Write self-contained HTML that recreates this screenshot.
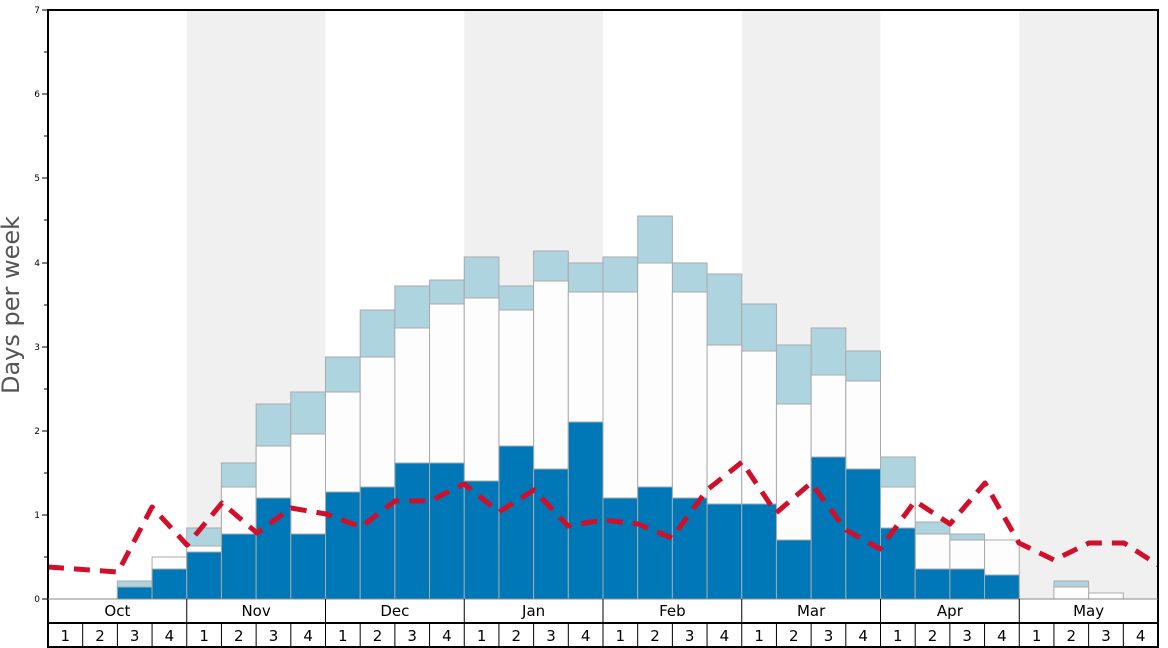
<!DOCTYPE html>
<html><head><meta charset="utf-8"><style>body{margin:0;background:#fff}svg{display:block;font-family:"DejaVu Sans","Liberation Sans",sans-serif}</style></head><body>
<svg width="1168" height="648" viewBox="0 0 1168 648">
<rect x="186.75" y="10" width="138.75" height="589" fill="#f0f0f0"/>
<rect x="464.25" y="10" width="138.75" height="589" fill="#f0f0f0"/>
<rect x="741.75" y="10" width="138.75" height="589" fill="#f0f0f0"/>
<rect x="1019.25" y="10" width="138.75" height="589" fill="#f0f0f0"/>
<g stroke="#aaa" stroke-width="1">
<g fill="#aed4e0">
<rect x="117.38" y="581" width="34.69" height="18"/>
<rect x="186.75" y="528" width="34.69" height="71"/>
<rect x="221.44" y="463" width="34.69" height="136"/>
<rect x="256.13" y="404" width="34.69" height="195"/>
<rect x="290.81" y="392" width="34.69" height="207"/>
<rect x="325.5" y="357" width="34.69" height="242"/>
<rect x="360.19" y="310" width="34.69" height="289"/>
<rect x="394.88" y="286" width="34.69" height="313"/>
<rect x="429.56" y="280" width="34.69" height="319"/>
<rect x="464.25" y="257" width="34.69" height="342"/>
<rect x="498.94" y="286" width="34.69" height="313"/>
<rect x="533.63" y="251" width="34.69" height="348"/>
<rect x="568.31" y="263" width="34.69" height="336"/>
<rect x="603" y="257" width="34.69" height="342"/>
<rect x="637.69" y="216" width="34.69" height="383"/>
<rect x="672.38" y="263" width="34.69" height="336"/>
<rect x="707.06" y="274" width="34.69" height="325"/>
<rect x="741.75" y="304" width="34.69" height="295"/>
<rect x="776.44" y="345" width="34.69" height="254"/>
<rect x="811.13" y="328" width="34.69" height="271"/>
<rect x="845.81" y="351" width="34.69" height="248"/>
<rect x="880.5" y="457" width="34.69" height="142"/>
<rect x="915.19" y="522" width="34.69" height="77"/>
<rect x="949.88" y="534" width="34.69" height="65"/>
<rect x="1053.94" y="581" width="34.69" height="18"/>
</g>
<g fill="#fdfdfd">
<rect x="152.06" y="557" width="34.69" height="42"/>
<rect x="186.75" y="546" width="34.69" height="53"/>
<rect x="221.44" y="487" width="34.69" height="112"/>
<rect x="256.13" y="446" width="34.69" height="153"/>
<rect x="290.81" y="434" width="34.69" height="165"/>
<rect x="325.5" y="392" width="34.69" height="207"/>
<rect x="360.19" y="357" width="34.69" height="242"/>
<rect x="394.88" y="328" width="34.69" height="271"/>
<rect x="429.56" y="304" width="34.69" height="295"/>
<rect x="464.25" y="298" width="34.69" height="301"/>
<rect x="498.94" y="310" width="34.69" height="289"/>
<rect x="533.63" y="281" width="34.69" height="318"/>
<rect x="568.31" y="292" width="34.69" height="307"/>
<rect x="603" y="292" width="34.69" height="307"/>
<rect x="637.69" y="263" width="34.69" height="336"/>
<rect x="672.38" y="292" width="34.69" height="307"/>
<rect x="707.06" y="345" width="34.69" height="254"/>
<rect x="741.75" y="351" width="34.69" height="248"/>
<rect x="776.44" y="404" width="34.69" height="195"/>
<rect x="811.13" y="375" width="34.69" height="224"/>
<rect x="845.81" y="381" width="34.69" height="218"/>
<rect x="880.5" y="487" width="34.69" height="112"/>
<rect x="915.19" y="534" width="34.69" height="65"/>
<rect x="949.88" y="540" width="34.69" height="59"/>
<rect x="984.56" y="540" width="34.69" height="59"/>
<rect x="1053.94" y="587" width="34.69" height="12"/>
<rect x="1088.63" y="593" width="34.69" height="6"/>
</g>
<g fill="#0077b6">
<rect x="117.38" y="587" width="34.69" height="12"/>
<rect x="152.06" y="569" width="34.69" height="30"/>
<rect x="186.75" y="552" width="34.69" height="47"/>
<rect x="221.44" y="534" width="34.69" height="65"/>
<rect x="256.13" y="498" width="34.69" height="101"/>
<rect x="290.81" y="534" width="34.69" height="65"/>
<rect x="325.5" y="492" width="34.69" height="107"/>
<rect x="360.19" y="487" width="34.69" height="112"/>
<rect x="394.88" y="463" width="34.69" height="136"/>
<rect x="429.56" y="463" width="34.69" height="136"/>
<rect x="464.25" y="481" width="34.69" height="118"/>
<rect x="498.94" y="446" width="34.69" height="153"/>
<rect x="533.63" y="469" width="34.69" height="130"/>
<rect x="568.31" y="422" width="34.69" height="177"/>
<rect x="603" y="498" width="34.69" height="101"/>
<rect x="637.69" y="487" width="34.69" height="112"/>
<rect x="672.38" y="498" width="34.69" height="101"/>
<rect x="707.06" y="504" width="34.69" height="95"/>
<rect x="741.75" y="504" width="34.69" height="95"/>
<rect x="776.44" y="540" width="34.69" height="59"/>
<rect x="811.13" y="457" width="34.69" height="142"/>
<rect x="845.81" y="469" width="34.69" height="130"/>
<rect x="880.5" y="528" width="34.69" height="71"/>
<rect x="915.19" y="569" width="34.69" height="30"/>
<rect x="949.88" y="569" width="34.69" height="30"/>
<rect x="984.56" y="575" width="34.69" height="24"/>
</g>
</g>
<polyline fill="none" stroke="#d0102a" stroke-width="5" stroke-dasharray="16,10" stroke-linejoin="round" points="48,567 118,572 152,507 187,545 222,503 257,533 291,508 326,514 361,527 395,501 430,501 464,484 499,512 534,490 568,526 603,520 638,524 672,538 707,490 742,462 776,513 811,483 846,530 880,549 915,501 950,524 985,483 1019,543 1054,560 1089,543 1124,543 1158,565"/>
<rect x="48" y="10" width="1110" height="637" fill="none" stroke="#000" stroke-width="2"/>
<g stroke="#000" stroke-width="1">
<line x1="48" y1="599" x2="1158" y2="599" stroke="#888"/>
<line x1="48" y1="623" x2="1158" y2="623" stroke-width="2"/>
<line x1="186.75" y1="599" x2="186.75" y2="647"/><line x1="325.5" y1="599" x2="325.5" y2="647"/><line x1="464.25" y1="599" x2="464.25" y2="647"/><line x1="603" y1="599" x2="603" y2="647"/><line x1="741.75" y1="599" x2="741.75" y2="647"/><line x1="880.5" y1="599" x2="880.5" y2="647"/><line x1="1019.25" y1="599" x2="1019.25" y2="647"/>
<line x1="82.69" y1="623" x2="82.69" y2="647"/><line x1="117.38" y1="623" x2="117.38" y2="647"/><line x1="152.06" y1="623" x2="152.06" y2="647"/><line x1="221.44" y1="623" x2="221.44" y2="647"/><line x1="256.13" y1="623" x2="256.13" y2="647"/><line x1="290.81" y1="623" x2="290.81" y2="647"/><line x1="360.19" y1="623" x2="360.19" y2="647"/><line x1="394.88" y1="623" x2="394.88" y2="647"/><line x1="429.56" y1="623" x2="429.56" y2="647"/><line x1="498.94" y1="623" x2="498.94" y2="647"/><line x1="533.63" y1="623" x2="533.63" y2="647"/><line x1="568.31" y1="623" x2="568.31" y2="647"/><line x1="637.69" y1="623" x2="637.69" y2="647"/><line x1="672.38" y1="623" x2="672.38" y2="647"/><line x1="707.06" y1="623" x2="707.06" y2="647"/><line x1="776.44" y1="623" x2="776.44" y2="647"/><line x1="811.13" y1="623" x2="811.13" y2="647"/><line x1="845.81" y1="623" x2="845.81" y2="647"/><line x1="915.19" y1="623" x2="915.19" y2="647"/><line x1="949.88" y1="623" x2="949.88" y2="647"/><line x1="984.56" y1="623" x2="984.56" y2="647"/><line x1="1053.94" y1="623" x2="1053.94" y2="647"/><line x1="1088.63" y1="623" x2="1088.63" y2="647"/><line x1="1123.31" y1="623" x2="1123.31" y2="647"/>
<line x1="42" y1="599" x2="48" y2="599"/><line x1="44" y1="557" x2="48" y2="557"/><line x1="42" y1="515" x2="48" y2="515"/><line x1="44" y1="473" x2="48" y2="473"/><line x1="42" y1="431" x2="48" y2="431"/><line x1="44" y1="389" x2="48" y2="389"/><line x1="42" y1="347" x2="48" y2="347"/><line x1="44" y1="305" x2="48" y2="305"/><line x1="42" y1="263" x2="48" y2="263"/><line x1="44" y1="220" x2="48" y2="220"/><line x1="42" y1="178" x2="48" y2="178"/><line x1="44" y1="136" x2="48" y2="136"/><line x1="42" y1="94" x2="48" y2="94"/><line x1="44" y1="52" x2="48" y2="52"/><line x1="42" y1="10" x2="48" y2="10"/>
</g>
<g font-size="9" text-anchor="end" fill="#000">
<text x="40" y="602">0</text><text x="40" y="518">1</text><text x="40" y="434">2</text><text x="40" y="350">3</text><text x="40" y="266">4</text><text x="40" y="181">5</text><text x="40" y="97">6</text><text x="40" y="13">7</text>
</g>
<text transform="translate(19,305) rotate(-90)" font-size="24" fill="#555" text-anchor="middle">Days per week</text>
<g font-size="15" text-anchor="middle" fill="#000">
<text x="117.4" y="616">Oct</text><text x="256.1" y="616">Nov</text><text x="394.9" y="616">Dec</text><text x="533.6" y="616">Jan</text><text x="672.4" y="616">Feb</text><text x="811.1" y="616">Mar</text><text x="949.9" y="616">Apr</text><text x="1088.6" y="616">May</text>
</g>
<g font-size="15" text-anchor="middle" fill="#000">
<text x="65.3" y="641">1</text><text x="100" y="641">2</text><text x="134.7" y="641">3</text><text x="169.4" y="641">4</text>
<text x="204.1" y="641">1</text><text x="238.8" y="641">2</text><text x="273.5" y="641">3</text><text x="308.2" y="641">4</text>
<text x="342.8" y="641">1</text><text x="377.5" y="641">2</text><text x="412.2" y="641">3</text><text x="446.9" y="641">4</text>
<text x="481.6" y="641">1</text><text x="516.3" y="641">2</text><text x="551" y="641">3</text><text x="585.7" y="641">4</text>
<text x="620.3" y="641">1</text><text x="655" y="641">2</text><text x="689.7" y="641">3</text><text x="724.4" y="641">4</text>
<text x="759.1" y="641">1</text><text x="793.8" y="641">2</text><text x="828.5" y="641">3</text><text x="863.2" y="641">4</text>
<text x="897.8" y="641">1</text><text x="932.5" y="641">2</text><text x="967.2" y="641">3</text><text x="1001.9" y="641">4</text>
<text x="1036.6" y="641">1</text><text x="1071.3" y="641">2</text><text x="1106" y="641">3</text><text x="1140.7" y="641">4</text>
</g>
</svg>
</body></html>
